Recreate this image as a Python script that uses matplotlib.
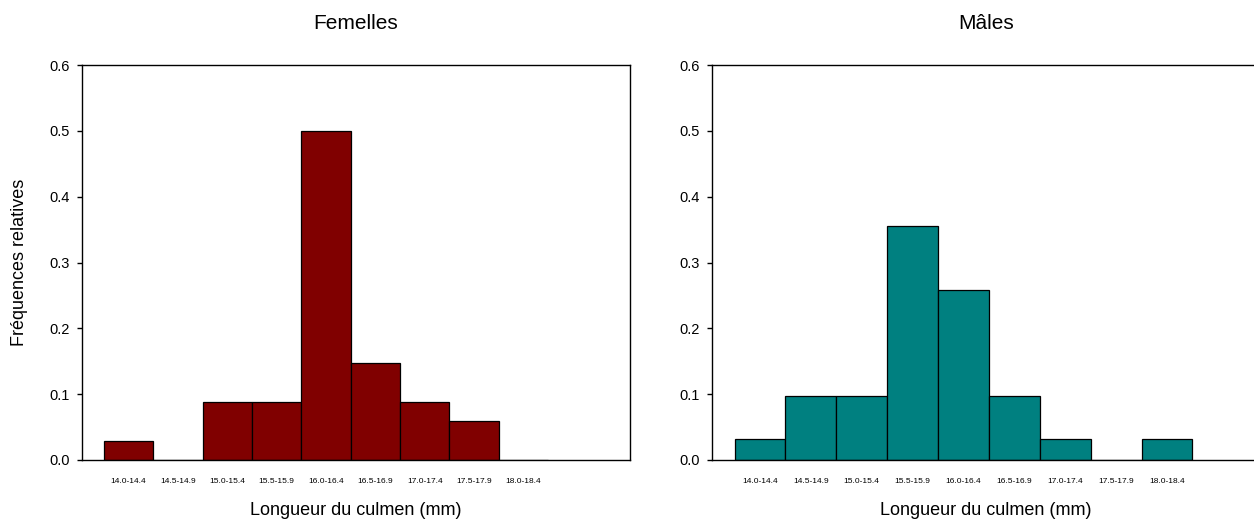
import matplotlib
matplotlib.use("Agg")
import matplotlib.pyplot as plt
import numpy as np

plt.rcParams['font.family'] = ['Liberation Sans', 'DejaVu Sans']

bins = ["14.0-14.4", "14.5-14.9", "15.0-15.4", "15.5-15.9", "16.0-16.4",
        "16.5-16.9", "17.0-17.4", "17.5-17.9", "18.0-18.4"]
femelles = [0.029, 0.0, 0.088, 0.088, 0.5, 0.147, 0.088, 0.059, 0.0]
males = [0.032, 0.097, 0.097, 0.355, 0.258, 0.097, 0.032, 0.0, 0.032]
yticks = [0.0, 0.1, 0.2, 0.3, 0.4, 0.5, 0.6]

fig = plt.figure(figsize=(12.54, 5.21), dpi=100)
ax1 = fig.add_axes([0.0651, 0.1171, 0.437, 0.758])
ax2 = fig.add_axes([0.5675, 0.1171, 0.437, 0.758])

panels = [(ax1, femelles, "#800000", "Femelles", (-0.95, 10.15)),
          (ax2, males, "#008080", "Mâles", (-0.95, 9.82))]
x = np.arange(len(bins))
for ax, vals, col, title, xl in panels:
    ax.bar(x, vals, width=1.0, color=col, edgecolor="black", linewidth=0.9)
    ax.set_xlim(*xl)
    ax.set_ylim(0, 0.6)
    ax.set_yticks(yticks)
    ax.set_yticklabels([f"{v:.1f}" for v in yticks], fontsize=10.5)
    ax.set_xticks(x)
    ax.set_xticklabels(bins, fontsize=6)
    ax.tick_params(axis="x", length=0, pad=13)
    ax.tick_params(axis="y", direction="out", length=3.5, width=1, pad=5)
    for s in ax.spines.values():
        s.set_linewidth(1.0)
        s.set_color("black")
    ax.set_title(title, fontsize=15, pad=26)
    ax.set_xlabel("Longueur du culmen (mm)", fontsize=13, labelpad=12)

ax1.set_ylabel("Fréquences relatives", fontsize=13)
ax1.yaxis.set_label_coords(-0.098, 0.5)

fig.savefig("out.png", dpi=100)
